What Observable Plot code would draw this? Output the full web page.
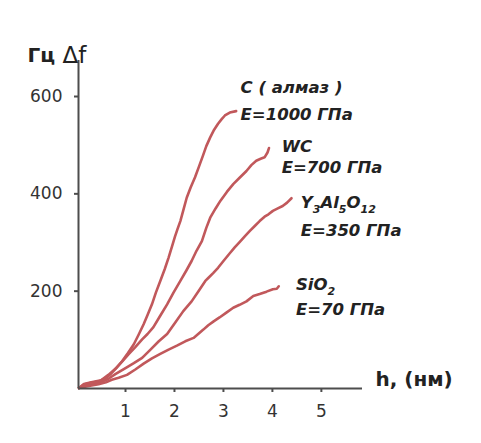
<!DOCTYPE html>
<html>
<head>
<meta charset="utf-8">
<script src="https://cdn.jsdelivr.net/npm/d3@7"></script>
<script src="https://cdn.jsdelivr.net/npm/@observablehq/plot@0.6"></script>
<style>
  html, body { margin: 0; padding: 0; background: #fff; }
  #chart { width: 481px; height: 443px; }
</style>
</head>
<body>
<div id="chart"></div>
<script>
// ---------- data ----------
const series = ["C ( алмаз )", "WC", "Y3Al5O12", "SiO2"];
const moduli = ["E=1000 ГПа", "E=700 ГПа", "E=350 ГПа", "E=70 ГПа"];

const hDiamond = [0.05,0.15,0.3,0.5,0.65,0.8,0.93,1.05,1.17,1.27,1.37,1.45,1.54,1.62,1.71,1.8,1.88,1.95,2.01,2.06,2.12,2.18,2.25,2.33,2.42,2.5,2.58,2.65,2.73,2.8,2.89,2.96,3.03,3.13,3.26];
const fDiamond = [1,9,13,17,28,41,56,73,91,111,132,151,173,197,221,245,269,292,312,327,344,366,392,413,434,456,478,498,516,530,544,553,561,567,570];

const hWC = [0.05,0.15,0.3,0.45,0.59,0.7,0.8,0.93,1.06,1.2,1.34,1.45,1.57,1.7,1.85,1.98,2.12,2.24,2.35,2.45,2.56,2.65,2.73,2.84,2.94,3.07,3.2,3.33,3.47,3.57,3.67,3.76,3.84,3.9,3.93];
const fWC = [1,8,12,14,21,30,41,55,70,85,101,112,126,148,173,197,221,242,262,283,303,330,351,370,386,404,420,433,447,459,468,472,475,485,494];

const hYAG = [0.05,0.2,0.35,0.5,0.65,0.8,1.0,1.17,1.34,1.5,1.68,1.85,2.02,2.18,2.35,2.49,2.63,2.69,2.79,2.89,3.0,3.13,3.23,3.33,3.44,3.54,3.64,3.74,3.84,3.92,4.01,4.11,4.21,4.3,4.39];
const fYAG = [1,6,10,13,20,30,42,52,63,79,97,112,136,159,179,200,221,227,237,248,262,278,290,301,313,324,334,344,353,358,365,370,375,382,391];

const hSiO2 = [0.05,0.25,0.45,0.6,0.72,0.86,1.03,1.2,1.37,1.54,1.71,1.88,2.05,2.22,2.39,2.59,2.69,2.8,2.92,3.06,3.2,3.33,3.47,3.61,3.74,3.88,4.01,4.09,4.13];
const fSiO2 = [1,5,9,13,18,22,28,39,51,62,71,80,88,97,104,121,130,138,146,156,166,172,179,190,194,199,204,205,210];

const xTicks = [1, 2, 3, 4, 5];
const yTicks = [200, 400, 600];
const yUnit = "Гц";
const yName = "Δf";
const xLabel = "h, (нм)";

// ---------- build ----------
const H = [hDiamond, hWC, hYAG, hSiO2];
const F = [fDiamond, fWC, fYAG, fSiO2];
const rows = series.flatMap((s, i) => H[i].map((h, j) => ({series: s, h, f: F[i][j]})));

const xDomain = [0.04, 5.84];
const yDomain = [0, 674];
const lineColor = "#c1585b";
const axisColor = "#4d4d4d";
const labelFont = "'DejaVu Sans', sans-serif";

// label layout (data coordinates of label anchors)
const nameAt = [[3.35, 618], [4.19, 497], [4.58, 382], [4.48, 213]];
const modAt  = [[3.35, 563], [4.19, 454], [4.58, 324], [4.48, 162]];

const names = series.map((s, i) => ({t: s, x: nameAt[i][0], y: nameAt[i][1]}));
const mods = moduli.map((s, i) => ({t: s, x: modAt[i][0], y: modAt[i][1]}));

const svg = Plot.plot({
  width: 481,
  height: 443,
  marginLeft: 78,
  marginRight: 119,
  marginTop: 60,
  marginBottom: 55,
  style: {background: "#fff", overflow: "visible"},
  x: {domain: xDomain},
  y: {domain: yDomain},
  marks: [
    Plot.axisY(yTicks, {tickSize: 4, tickPadding: 12, fontSize: 17, fill: "#333", stroke: axisColor, strokeWidth: 2, fontFamily: "DejaVu Sans", label: null}),
    Plot.axisX(xTicks, {tickSize: 4, tickPadding: 12, fontSize: 17, fill: "#333", stroke: axisColor, strokeWidth: 2, fontFamily: "DejaVu Sans", label: null}),
    Plot.line(rows, {x: "h", y: "f", z: "series", stroke: lineColor, strokeWidth: 2.6, strokeLinejoin: "round", strokeLinecap: "round"}),
    Plot.ruleX([xDomain[0]], {stroke: axisColor, strokeWidth: 2}),
    Plot.ruleY([0], {stroke: axisColor, strokeWidth: 2}),
    Plot.text(names, {x: "x", y: "y", text: "t", textAnchor: "start", fontSize: 16.5, fontWeight: "bold", fontStyle: "italic", fontFamily: labelFont, fill: "#222"}),
    Plot.text(mods, {x: "x", y: "y", text: "t", textAnchor: "start", fontSize: 16.5, fontWeight: "bold", fontStyle: "italic", fontFamily: labelFont, fill: "#222"}),
    Plot.text([yUnit], {frameAnchor: "top-left", dx: -51, dy: -12.5, textAnchor: "start", fontSize: 20, fontWeight: "bold", fontFamily: "DejaVu Sans", fill: "#222"}),
    Plot.text([yName], {frameAnchor: "top-left", dx: -16, dy: -13.5, textAnchor: "start", fontSize: 23, fontFamily: "DejaVu Sans", fill: "#222"}),
    Plot.text([xLabel], {frameAnchor: "bottom-right", dx: 13, dy: -2.5, textAnchor: "start", fontSize: 20, fontWeight: "bold", fontFamily: "DejaVu Sans", fill: "#222"})
  ]
});

// chemical subscripts
const subs = {
  "Y3Al5O12": [["Y",0],["3",1],["Al",0],["5",1],["O",0],["12",1]],
  "SiO2": [["SiO",0],["2",1]]
};
d3.select(svg).selectAll("text").each(function() {
  const parts = subs[this.textContent];
  if (!parts || this.childElementCount) return;
  const el = d3.select(this);
  el.text(null);
  let low = false;
  parts.forEach(([s, isSub]) => {
    const ts = el.append("tspan").text(s);
    if (isSub) {
      ts.attr("font-size", 11);
      if (!low) ts.attr("dy", 5);
      low = true;
    } else {
      if (low) ts.attr("dy", -5);
      low = false;
    }
  });
});

document.getElementById("chart").appendChild(svg);
</script>
</body>
</html>
